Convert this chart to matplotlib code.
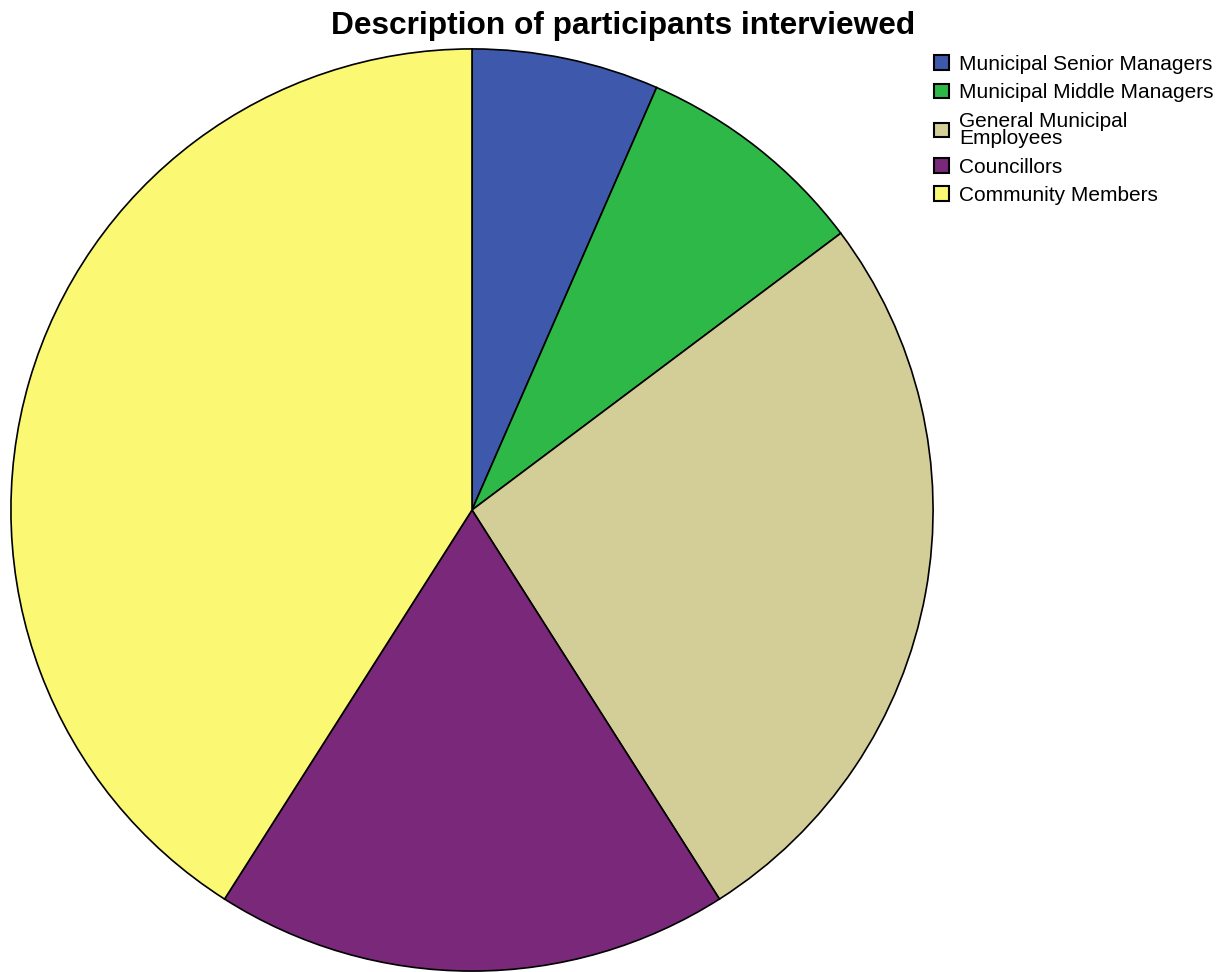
import matplotlib.pyplot as plt
from matplotlib.patches import Patch

plt.rcParams['font.family'] = ['Liberation Sans', 'DejaVu Sans']

groups = ['Municipal Senior Managers', 'Municipal Middle Managers',
          'General Municipal\nEmployees', 'Councillors', 'Community Members']
counts = [4, 5, 16, 11, 25]
colors = ['#3E58AC', '#2EB848', '#D3CE97', '#7A287A', '#FBF873']

fig = plt.figure(figsize=(12.31, 9.72), dpi=100)
ax = fig.add_axes([10 / 1231, 0, 924 / 1231, 924 / 972])
ax.pie(counts, colors=colors, startangle=90, counterclock=False,
       wedgeprops=dict(edgecolor='black', linewidth=1.2))
ax.set_xlim(-1.002, 1.002)
ax.set_ylim(-1.002, 1.002)
ax.set_aspect('equal')

fig.text(623 / 1231, 1 - 26 / 972, 'Description of participants interviewed',
         ha='center', va='center', fontsize=22.8, fontweight='bold')

handles = [Patch(facecolor=c, edgecolor='black', linewidth=1.5) for c in colors]
leg = fig.legend(handles, groups, loc='upper left',
                 bbox_to_anchor=(934 / 1231, 1 - 55 / 972), frameon=False,
                 fontsize=15, handlelength=0.7, handleheight=0.7,
                 handletextpad=0.5, labelspacing=0.45, borderpad=0,
                 borderaxespad=0)
for t in leg.get_texts():
    t.set_linespacing(0.9)

fig.savefig('out.png', dpi=100)
